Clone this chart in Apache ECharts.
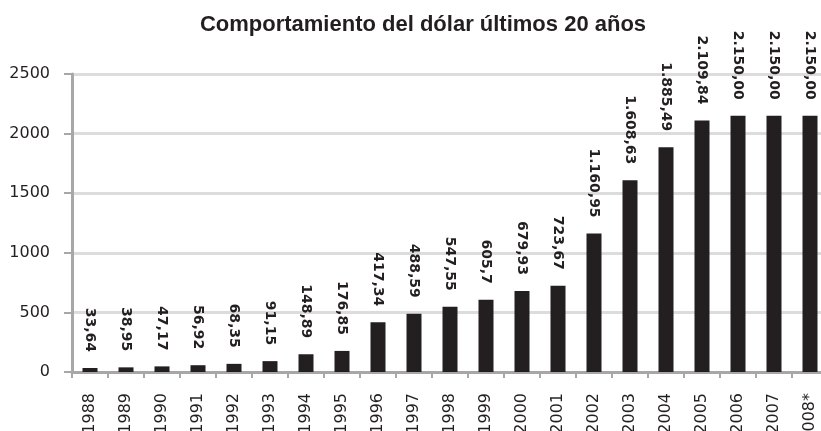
<!DOCTYPE html>
<html>
<head>
<meta charset="utf-8">
<script src="https://cdn.jsdelivr.net/npm/echarts@6/dist/echarts.min.js"></script>
<style>
  html, body { margin: 0; padding: 0; background: #fff; }
  #chart { width: 821px; height: 431px; }
</style>
</head>
<body>
<div id="chart"></div>
<script>
// years (2008 is an estimate, hence the asterisk)
var years = ['1988', '1989', '1990', '1991', '1992', '1993', '1994', '1995', '1996', '1997',
  '1998', '1999', '2000', '2001', '2002', '2003', '2004', '2005', '2006', '2007', '2008*']
var dolar = [33.64, 38.95, 47.17, 56.92, 68.35, 91.15, 148.89, 176.85, 417.34, 488.59,
  547.55, 605.7, 679.93, 723.67, 1160.95, 1608.63, 1885.49, 2109.84, 2150, 2150, 2150]
var dolarLabels = ['33,64', '38,95', '47,17', '56,92', '68,35', '91,15', '148,89', '176,85', '417,34', '488,59',
  '547,55', '605,7', '679,93', '723,67', '1.160,95', '1.608,63', '1.885,49', '2.109,84', '2.150,00', '2.150,00', '2.150,00']
var yTicks = [0, 500, 1000, 1500, 2000, 2500]

var chart = echarts.init(document.getElementById('chart'))

chart.setOption({
  animation: false,
  backgroundColor: '#fff',
  title: {
    text: 'Comportamiento del dólar últimos 20 años',
    left: 418,
    textAlign: 'center',
    top: 9,
    textStyle: {
      fontFamily: 'Liberation Sans',
      fontWeight: 'bold',
      fontSize: 22,
      color: '#231f20'
    }
  },
  grid: {
    left: 72,
    top: 74,
    width: 756,
    height: 298,
    containLabel: false,
    outerBoundsMode: 'none'
  },
  xAxis: {
    type: 'category',
    data: years,
    axisLine: {
      lineStyle: { color: '#a7a7a7', width: 3 }
    },
    axisTick: {
      show: true,
      length: 6,
      lineStyle: { color: '#a7a7a7', width: 2 }
    },
    axisLabel: {
      rotate: 90,
      margin: 21,
      interval: 0,
      fontFamily: 'DejaVu Sans',
      fontSize: 16,
      color: '#231f20'
    }
  },
  yAxis: {
    type: 'value',
    min: yTicks[0],
    max: yTicks[yTicks.length - 1],
    interval: 500,
    axisLine: {
      show: true,
      lineStyle: { color: '#a7a7a7', width: 3 }
    },
    axisTick: {
      show: true,
      length: 8,
      lineStyle: { color: '#a7a7a7', width: 2 }
    },
    axisLabel: {
      margin: 22,
      fontFamily: 'DejaVu Sans',
      fontSize: 16,
      color: '#231f20',
      formatter: function (v) {
        return String(v)
      }
    },
    splitLine: {
      lineStyle: { color: '#dcdcdc', width: 3 }
    }
  },
  series: [{
    type: 'bar',
    data: dolar,
    barWidth: 15,
    itemStyle: { color: '#231f20' },
    label: {
      show: true,
      position: 'top',
      distance: 16,
      rotate: -90,
      align: 'right',
      verticalAlign: 'middle',
      fontFamily: 'DejaVu Sans',
      fontWeight: 'bold',
      fontSize: 14,
      color: '#231f20',
      formatter: function (p) {
        return dolarLabels[p.dataIndex]
      }
    }
  }]
})
</script>
</body>
</html>
